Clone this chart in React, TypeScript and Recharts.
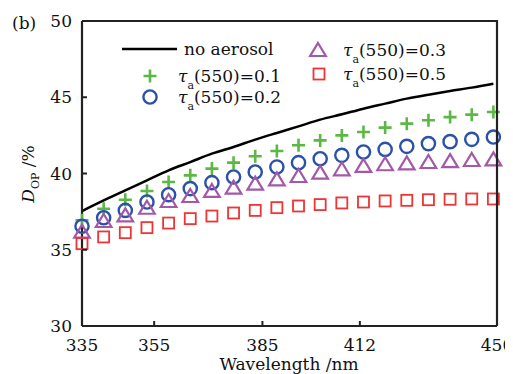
import { ComposedChart, Line, Scatter, XAxis, YAxis } from 'recharts';

const wavelengths = [335, 341, 347, 353, 359, 365, 371, 377, 383, 389, 395, 401, 407, 413, 419, 425, 431, 437, 443, 449];
const noAerosol = [37.54, 38.24, 38.9, 39.55, 40.21, 40.75, 41.3, 41.74, 42.22, 42.66, 43.09, 43.53, 43.88, 44.25, 44.58, 44.91, 45.17, 45.41, 45.63, 45.89];
const tau01 = [36.93, 37.69, 38.28, 38.85, 39.44, 39.88, 40.32, 40.71, 41.13, 41.48, 41.85, 42.17, 42.5, 42.72, 43.01, 43.27, 43.49, 43.7, 43.86, 44.03];
const tau02 = [36.54, 37.1, 37.58, 38.13, 38.61, 39.01, 39.4, 39.77, 40.1, 40.43, 40.71, 40.97, 41.19, 41.41, 41.58, 41.78, 41.96, 42.09, 42.24, 42.39];
const tau03 = [36.12, 36.82, 37.19, 37.69, 38.13, 38.46, 38.79, 39.01, 39.27, 39.55, 39.77, 39.99, 40.21, 40.43, 40.54, 40.6, 40.69, 40.75, 40.82, 40.86];
const tau05 = [35.4, 35.84, 36.12, 36.45, 36.75, 37.04, 37.21, 37.41, 37.58, 37.76, 37.87, 37.96, 38.07, 38.13, 38.2, 38.24, 38.28, 38.31, 38.33, 38.33];
const xTicks = [335, 355, 385, 412, 450];
const yTicks = [30, 35, 40, 45, 50];

const rows = wavelengths.map((wl, i) => ({
    wl,
    none: noAerosol[i],
    t01: tau01[i],
    t02: tau02[i],
    t03: tau03[i],
    t05: tau05[i],
}));

const W = 505;
const H = 366;
const M = { top: 13, right: 16, bottom: 0, left: 0 };
const Y_W = 74;
const X_H = 48;

const FONT = 'DejaVu Serif';
const GREEN = '#5cb845';
const BLUE = '#2a52a8';
const PURPLE = '#a358a8';
const RED = '#ee3434';
const FRAME = '#222222';

// marker shapes
const Plus = ({ cx, cy }: any) => (
    <path d={`M${cx - 6.5},${cy}H${cx + 6.5}M${cx},${cy - 6.5}V${cy + 6.5}`} stroke={GREEN} strokeWidth={2.6} fill="none" />
);
const Ring = ({ cx, cy }: any) => <circle cx={cx} cy={cy} r={6.6} stroke={BLUE} strokeWidth={2.4} fill="none" />;
const Tri = ({ cx, cy }: any) => (
    <path d={`M${cx},${cy - 8}L${cx + 7.8},${cy + 5}L${cx - 7.8},${cy + 5}Z`} stroke={PURPLE} strokeWidth={2.2} fill="none" />
);
const Box = ({ cx, cy }: any) => (
    <rect x={cx - 5.5} y={cy - 5.5} width={11} height={11} stroke={RED} strokeWidth={1.8} fill="none" />
);

const XTick = ({ x, y, payload }: any) => (
    <g>
        <path d={`M${x},${y}V${y - 5}`} stroke={FRAME} strokeWidth={2} fill="none" />
        <text x={x} y={y + 25} textAnchor="middle" fontFamily={FONT} fontSize={17} fill="#111">
            {payload.value}
        </text>
    </g>
);

const YTick = ({ x, y, payload }: any) => (
    <g>
        <path d={`M${x},${y}H${x + 5}`} stroke={FRAME} strokeWidth={2} fill="none" />
        <text x={x - 10} y={y + 6} textAnchor="end" fontFamily={FONT} fontSize={17} fill="#111">
            {payload.value}
        </text>
    </g>
);

const TauLabel = ({ x, y, v }: { x: number; y: number; v: string }) => (
    <text x={x} y={y} fontFamily={FONT} fontSize={17} fill="#111">
        <tspan fontStyle="italic">τ</tspan>
        <tspan fontSize={11} dy={7}>a</tspan>
        <tspan dy={-7}>(550)={v}</tspan>
    </text>
);

export default function App() {
    const x0 = M.left + Y_W;
    const y0 = M.top;
    const x1 = W - M.right;
    const y1 = H - M.bottom - X_H;
    return (
        <div style={{ position: 'relative', width: W, height: H }}>
            <style>{`html { overflow: hidden; } svg.recharts-surface { overflow: visible; }`}</style>
            <ComposedChart width={W} height={H} data={rows} margin={M}>
                <XAxis
                    dataKey="wl"
                    type="number"
                    domain={[335, 450]}
                    ticks={xTicks}
                    tickSize={0}
                    tickMargin={0}
                    tickLine={false}
                    tick={<XTick />}
                    height={X_H}
                    axisLine={{ stroke: FRAME, strokeWidth: 2.2 }}
                />
                <YAxis
                    type="number"
                    domain={[30, 50]}
                    ticks={yTicks}
                    tickSize={0}
                    tickMargin={0}
                    tickLine={false}
                    tick={<YTick />}
                    width={Y_W}
                    axisLine={{ stroke: FRAME, strokeWidth: 2.2 }}
                />
                <Line dataKey="none" type="monotone" stroke="#000" strokeWidth={2.5} dot={false} isAnimationActive={false} />
                <Scatter dataKey="t01" shape={<Plus />} isAnimationActive={false} />
                <Scatter dataKey="t02" shape={<Ring />} isAnimationActive={false} />
                <Scatter dataKey="t03" shape={<Tri />} isAnimationActive={false} />
                <Scatter dataKey="t05" shape={<Box />} isAnimationActive={false} />
            </ComposedChart>
            <svg width={W} height={H} style={{ position: 'absolute', left: 0, top: 0, pointerEvents: 'none', overflow: 'visible' }}>
                {/* top and right edges of the box */}
                <path d={`M${x0},${y0}H${x1}V${y1}`} stroke={FRAME} strokeWidth={2.2} fill="none" />
                <text x={4} y={21} fontFamily={FONT} fontSize={17} fill="#111">(b)</text>
                <text x={281} y={362} textAnchor="middle" fontFamily={FONT} fontSize={17} fill="#111">Wavelength /nm</text>
                <text transform="translate(26,166) rotate(-90)" textAnchor="middle" fontFamily={FONT} fontSize={17} fill="#111">
                    <tspan fontStyle="italic">D</tspan>
                    <tspan fontSize={11} dy={5}>OP</tspan>
                    <tspan dy={-5}> /%</tspan>
                </text>
                {/* legend */}
                <line x1={114} x2={169} y1={41} y2={41} stroke="#000" strokeWidth={2.5} />
                <text x={176} y={47} fontFamily={FONT} fontSize={17} fill="#111">no aerosol</text>
                <Plus cx={142} cy={68} />
                <TauLabel x={170} y={74} v="0.1" />
                <Ring cx={142} cy={89} />
                <TauLabel x={170} y={95} v="0.2" />
                <Tri cx={310} cy={43} />
                <TauLabel x={335} y={48} v="0.3" />
                <Box cx={311} cy={66} />
                <TauLabel x={335} y={72} v="0.5" />
            </svg>
        </div>
    );
}
